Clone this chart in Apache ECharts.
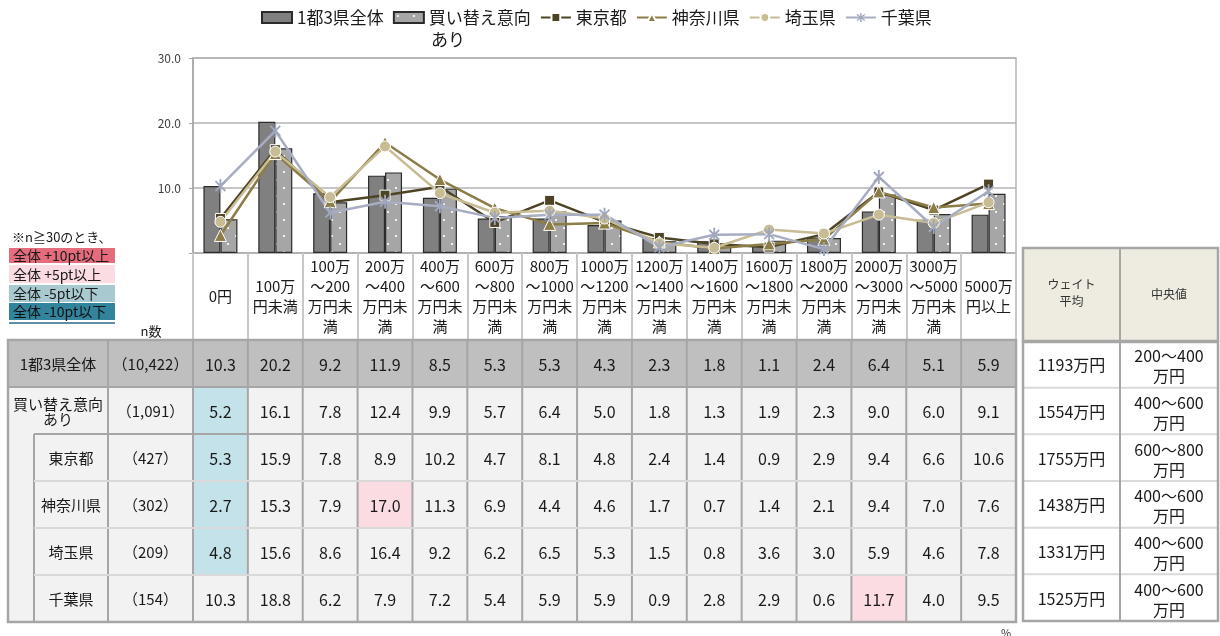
<!DOCTYPE html>
<html><head><meta charset="utf-8">
<script src="https://cdn.jsdelivr.net/npm/echarts@6/dist/echarts.min.js"></script>
<style>html,body{margin:0;padding:0;background:#fff}#c{width:1220px;height:636px}</style>
</head><body><div id="c"></div>
<script>
// ---------- data ----------
const categories = ['0円','100万\n円未満','100万\n～200\n万円未\n満','200万\n～400\n万円未\n満','400万\n～600\n万円未\n満','600万\n～800\n万円未\n満','800万\n～1000\n万円未\n満','1000万\n～1200\n万円未\n満','1200万\n～1400\n万円未\n満','1400万\n～1600\n万円未\n満','1600万\n～1800\n万円未\n満','1800万\n～2000\n万円未\n満','2000万\n～3000\n万円未\n満','3000万\n～5000\n万円未\n満','5000万\n円以上'];
const seriesNames = ['1都3県全体','買い替え意向あり','東京都','神奈川県','埼玉県','千葉県'];
const legendLines2 = ['買い替え意向','あり'];
const total    = [10.3,20.2,9.2,11.9,8.5,5.3,5.3,4.3,2.3,1.8,1.1,2.4,6.4,5.1,5.9];
const replace  = [5.2,16.1,7.8,12.4,9.9,5.7,6.4,5.0,1.8,1.3,1.9,2.3,9.0,6.0,9.1];
const tokyo    = [5.3,15.9,7.8,8.9,10.2,4.7,8.1,4.8,2.4,1.4,0.9,2.9,9.4,6.6,10.6];
const kanagawa = [2.7,15.3,7.9,17.0,11.3,6.9,4.4,4.6,1.7,0.7,1.4,2.1,9.4,7.0,7.6];
const saitama  = [4.8,15.6,8.6,16.4,9.2,6.2,6.5,5.3,1.5,0.8,3.6,3.0,5.9,4.6,7.8];
const chiba    = [10.3,18.8,6.2,7.9,7.2,5.4,5.9,5.9,0.9,2.8,2.9,0.6,11.7,4.0,9.5];
const rowLabels = ['1都3県全体','買い替え意向\nあり','東京都','神奈川県','埼玉県','千葉県'];
const nCounts   = [10422,1091,427,302,209,154];
const weightAvg = ['1193万円','1554万円','1755万円','1438万円','1331万円','1525万円'];
const median    = ['200～400\n万円','400～600\n万円','600～800\n万円','400～600\n万円','400～600\n万円','400～600\n万円'];
const yMin = 0, yMax = 30, yStep = 10;
const noteTitle = '※n≧30のとき、';
const noteLabels = ['全体 +10pt以上','全体 +5pt以上','全体 -5pt以下','全体 -10pt以下'];
const rightHeaders = ['ウェイト\n平均','中央値'];

// ---------- layout / style ----------
const FONT = '"Noto Sans CJK JP","Noto Sans",sans-serif';
const TXT = '#1a1a1a';
const G_L = 193, G_R = 1016, G_T = 58, G_B = 253;
const COLW = (G_R - G_L) / categories.length;
const T_L = 8, LAB_R = 108, SUB_L = 34, T_TOP = 340, ROWH = 47;
const noteColors = ['#e46c7d','#fbdce2','#a9c9d1','#31849b'];
const BORDER = '#a6a6a6', LIGHT = '#d9d9d9';

function fmtN(n){ return '（' + n.toLocaleString('en-US') + '）'; }

// dotted pattern for second bar
const pat = document.createElement('canvas');
pat.width = 16; pat.height = 16;
(function(){ const c = pat.getContext('2d'); c.fillStyle = '#a6a6a6'; c.fillRect(0,0,16,16);
  c.fillStyle = '#f0f0f0'; c.fillRect(3,3,2,2); c.fillRect(11,11,2,2); })();

function armRect(deg, L, w){ const a = deg*Math.PI/180, dx = Math.cos(a)*L, dy = Math.sin(a)*L, px = -Math.sin(a)*w, py = Math.cos(a)*w;
  const pts = [[dx+px,dy+py],[dx-px,dy-py],[-dx-px,-dy-py],[-dx+px,-dy+py]];
  return 'M' + pts.map(p => p[0].toFixed(2)+','+p[1].toFixed(2)).join('L') + 'Z'; }
const starSym = 'path://' + [90,45,135].map(d => armRect(d,10,1.3)).join(' ');

// ---------- table graphics ----------
const rows = [total, replace, tokyo, kanagawa, saitama, chiba];
const g = [];
const txt = (x, y, text, size, extra) => g.push(Object.assign({type:'text', x, y, silent:true, z:20,
  style: Object.assign({text, fill:TXT, fontSize:size, fontFamily:FONT, align:'center', verticalAlign:'middle'}, extra||{})}));
const line = (x1,y1,x2,y2,c,w) => g.push({type:'line', silent:true, z:15, shape:{x1,y1,x2,y2}, style:{stroke:c, lineWidth:w}});
const rect = (x,y,w,h,fill,z) => g.push({type:'rect', silent:true, z:z||10, shape:{x,y,width:w,height:h}, style:{fill}});

rows.forEach((r,i) => rect(T_L, T_TOP+i*ROWH, G_R-T_L, ROWH, i===0 ? '#bfbfbf' : '#f2f2f2'));
rows.forEach((r,i) => {
  if (i === 0 || nCounts[i] < 30) return;
  r.forEach((v,j) => {
    const d = Math.round((v - total[j])*10)/10;
    let c = null;
    if (d >= 10) c = noteColors[0]; else if (d >= 5) c = noteColors[1];
    else if (d <= -10) c = noteColors[3]; else if (d <= -5) c = '#c4e2ea';
    if (c) rect(G_L + j*COLW, T_TOP+i*ROWH, COLW, ROWH, c, 11);
  });
});
rows.forEach((r,i) => {
  const cy = T_TOP + i*ROWH + ROWH/2 + 1;
  const lx = i < 2 ? (T_L+LAB_R)/2 : (SUB_L+LAB_R)/2;
  txt(lx, cy, rowLabels[i], 15, {lineHeight:15});
  txt((LAB_R+G_L)/2, cy, fmtN(nCounts[i]), 15);
  r.forEach((v,j) => txt(G_L + (j+0.5)*COLW, cy, v.toFixed(1), 16));
});
// table lines
for (let j = 0; j <= categories.length; j++) line(G_L + j*COLW, T_TOP, G_L + j*COLW, T_TOP+6*ROWH, BORDER, 2);
line(LAB_R, T_TOP, LAB_R, T_TOP+6*ROWH, BORDER, 2);
line(SUB_L, T_TOP+2*ROWH, SUB_L, T_TOP+6*ROWH, BORDER, 2);
line(T_L, T_TOP+ROWH, G_R, T_TOP+ROWH, BORDER, 2);
line(SUB_L, T_TOP+2*ROWH, G_R, T_TOP+2*ROWH, BORDER, 2);
for (let i = 3; i < 6; i++) line(SUB_L, T_TOP+i*ROWH, G_R, T_TOP+i*ROWH, LIGHT, 2);
g.push({type:'rect', silent:true, z:16, shape:{x:T_L,y:T_TOP,width:G_R-T_L,height:6*ROWH}, style:{fill:null, stroke:BORDER, lineWidth:2.5}});

// right table
const R_L = 1023, R_M = 1120, R_R = 1218, RH_T = 248, RD_T = 341, RD_B = 621;
const RROWH = (RD_B - RD_T) / 6;
rect(R_L, RH_T, R_R-R_L, RD_T-RH_T, '#eeece1');
rect(R_L, RD_T, R_R-R_L, RD_B-RD_T, '#ffffff');
for (let i = 1; i < 6; i++) line(R_L, RD_T+i*RROWH, R_R, RD_T+i*RROWH, LIGHT, 2);
line(R_M, RH_T, R_M, RD_B, BORDER, 2);
g.push({type:'rect', silent:true, z:16, shape:{x:R_L,y:RH_T,width:R_R-R_L,height:RD_T-RH_T}, style:{fill:null, stroke:BORDER, lineWidth:2.5}});
g.push({type:'rect', silent:true, z:16, shape:{x:R_L,y:RD_T+1,width:R_R-R_L,height:RD_B-RD_T-1}, style:{fill:null, stroke:BORDER, lineWidth:2.5}});
txt((R_L+R_M)/2, 293, rightHeaders[0], 12, {lineHeight:17, fill:'#333'});
txt((R_M+R_R)/2, 294, rightHeaders[1], 12, {fill:'#333'});
weightAvg.forEach((t,i) => txt((R_L+R_M)/2, RD_T + (i+0.5)*RROWH + 1, t, 16));
median.forEach((t,i) => txt((R_M+R_R)/2, RD_T + (i+0.5)*RROWH + 2, t, 16, {lineHeight:20}));

// notes
txt(12, 237, noteTitle, 13, {align:'left'});
const boxY = [248, 265, 285, 303], boxH = [15, 18, 17, 17];
noteLabels.forEach((t,i) => { rect(9, boxY[i], 106, boxH[i], noteColors[i], 12); txt(13, boxY[i]+boxH[i]/2+0.5, t, 14, {align:'left', fill: i===3 ? '#111' : TXT}); });
line(9, 323, 115, 323, '#2a6a8a', 1.5);
txt(151, 331, 'n数', 13);
txt(1006, 633, '%', 11, {fill:'#333'});
// second line of the wrapped legend label
txt(431, 40, legendLines2[1], 17, {align:'left'});

// ---------- chart ----------
const chart = echarts.init(document.getElementById('c'));
chart.setOption({
  animation: false,
  backgroundColor: '#fff',
  textStyle: {fontFamily: FONT},
  legend: {
    left: 256, top: 4, itemWidth: 30, itemHeight: 11, itemGap: 9, selectedMode: false,
    textStyle: {fontSize: 17, color: TXT, fontFamily: FONT},
    formatter: n => n === seriesNames[1] ? legendLines2[0] : n,
    data: [{name: seriesNames[0], icon: 'rect'}, {name: seriesNames[1], icon: 'rect'},
           seriesNames[2], seriesNames[3], seriesNames[4], seriesNames[5]]
  },
  grid: {left: G_L, right: 1220-G_R, top: G_T, bottom: 636-G_B, show: true, borderColor: '#b5b5b5', borderWidth: 1.5},
  xAxis: {
    type: 'category', data: categories,
    axisLine: {lineStyle: {color: '#b0b0b0', width: 1.5}},
    axisTick: {show: true, interval: 0, length: 86, lineStyle: {color: '#c8c8c8', width: 2}},
    axisLabel: {interval: 0, fontSize: 15, lineHeight: 20, color: TXT, margin: 43, verticalAlign: 'middle', fontFamily: FONT}
  },
  yAxis: {
    type: 'value', min: yMin, max: yMax, interval: yStep,
    axisLine: {show: true, lineStyle: {color: '#a6a6a6', width: 1.5}},
    axisTick: {show: true, length: 4, lineStyle: {color: '#a6a6a6'}},
    axisLabel: {fontSize: 12, color: '#404040', margin: 12, formatter: v => v === 0 ? '' : v.toFixed(1)},
    splitLine: {lineStyle: {color: '#b3b3b3', width: 1.5}}
  },
  series: [
    {name: seriesNames[0], type: 'bar', data: total, barWidth: 17, barGap: '0%',
     itemStyle: {color: '#808080', borderColor: '#2b2b2b', borderWidth: 1.2}},
    {name: seriesNames[1], type: 'bar', data: replace, barWidth: 17, barGap: '0%',
     itemStyle: {color: {image: pat, repeat: 'repeat'}, borderColor: '#2b2b2b', borderWidth: 1.2}},
    {name: seriesNames[2], type: 'line', data: tokyo, symbol: 'rect', symbolSize: 10,
     lineStyle: {color: '#4d4425', width: 2.5}, itemStyle: {color: '#4d4425', borderColor: '#fff', borderWidth: 1}},
    {name: seriesNames[3], type: 'line', data: kanagawa, symbol: 'triangle', symbolSize: 12,
     lineStyle: {color: '#8c7d47', width: 2.5}, itemStyle: {color: '#8c7d47', borderColor: '#fff', borderWidth: 1}},
    {name: seriesNames[4], type: 'line', data: saitama, symbol: 'circle', symbolSize: 11,
     lineStyle: {color: '#c7bc94', width: 2.5}, itemStyle: {color: '#c7bc94', borderColor: '#fff', borderWidth: 1}},
    {name: seriesNames[5], type: 'line', data: chiba, symbol: starSym, symbolSize: 14, symbolKeepAspect: true,
     lineStyle: {color: '#a7adc2', width: 2.5}, itemStyle: {color: '#a0a7bd'}}
  ],
  graphic: g
});
</script></body></html>
